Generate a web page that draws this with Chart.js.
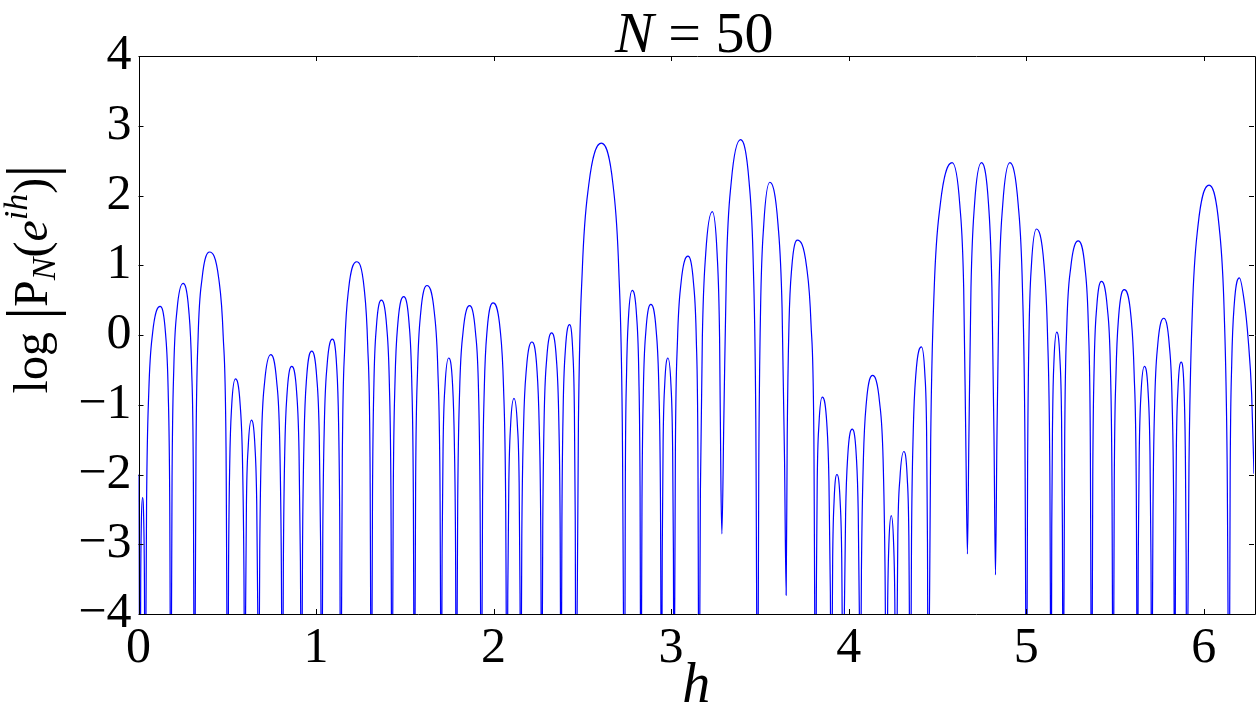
<!DOCTYPE html>
<html>
<head>
<meta charset="utf-8">
<script src="https://cdn.jsdelivr.net/npm/chart.js@4.4.1/dist/chart.umd.min.js"></script>
<style>
  html, body { margin: 0; padding: 0; background: #fff; }
  #wrap { width: 1260px; height: 723px; }
</style>
</head>
<body>
<div id="wrap"><canvas id="c" width="1260" height="723"></canvas></div>
<script>
// ---- Data ----
const titleText = { italic: 'N', rest: ' = 50' };
const xTickValues = [0, 1, 2, 3, 4, 5, 6];
const yTickValues = [-4, -3, -2, -1, 0, 1, 2, 3, 4];

// h positions (radians) of the sampled curve
const hVals = [
  0, 0.009,
  0.0124, 0.0158, 0.0225, 0.0298, 0.0334, 0.037,
  0.0455, 0.0583, 0.0795, 0.122, 0.152, 0.167, 0.176, 0.182,
  0.189, 0.199, 0.217, 0.251, 0.283, 0.299, 0.309, 0.315,
  0.324, 0.336, 0.358, 0.400, 0.452, 0.477, 0.493, 0.503,
  0.507, 0.514, 0.525, 0.546, 0.573, 0.586, 0.594, 0.599,
  0.603, 0.608, 0.618, 0.636, 0.656, 0.666, 0.672, 0.676,
  0.683, 0.693, 0.711, 0.745, 0.778, 0.795, 0.804, 0.811,
  0.816, 0.824, 0.837, 0.863, 0.891, 0.904, 0.912, 0.918,
  0.924, 0.933, 0.947, 0.976, 1.004, 1.018, 1.026, 1.032,
  1.038, 1.047, 1.062, 1.092, 1.116, 1.127, 1.134, 1.139,
  1.148, 1.162, 1.184, 1.229, 1.271, 1.291, 1.304, 1.312,
  1.318, 1.326, 1.340, 1.368, 1.398, 1.413, 1.422, 1.428,
  1.435, 1.445, 1.461, 1.494, 1.524, 1.539, 1.548, 1.554,
  1.561, 1.572, 1.590, 1.625, 1.666, 1.686, 1.698, 1.706,
  1.710, 1.716, 1.727, 1.747, 1.769, 1.779, 1.786, 1.790,
  1.798, 1.809, 1.828, 1.865, 1.898, 1.915, 1.924, 1.931,
  1.938, 1.948, 1.964, 1.997, 2.037, 2.056, 2.068, 2.076,
  2.080, 2.086, 2.096, 2.115, 2.134, 2.144, 2.149, 2.153,
  2.159, 2.169, 2.185, 2.216, 2.244, 2.257, 2.266, 2.271,
  2.277, 2.285, 2.299, 2.327, 2.354, 2.367, 2.375, 2.380,
  2.385, 2.392, 2.404, 2.428, 2.446, 2.455, 2.460, 2.464,
  2.478, 2.500, 2.536, 2.607, 2.673, 2.705, 2.725, 2.738,
  2.742, 2.749, 2.760, 2.781, 2.806, 2.818, 2.825, 2.830,
  2.836, 2.844, 2.858, 2.886, 2.916, 2.931, 2.940, 2.946,
  2.950, 2.955, 2.964, 2.982, 2.999, 3.008, 3.013, 3.016,
  3.024, 3.036, 3.056, 3.095, 3.126, 3.142, 3.151, 3.157,
  3.165, 3.176, 3.195, 3.232, 3.259, 3.273, 3.281, 3.286,
  3.297, 3.312, 3.339, 3.391, 3.439, 3.463, 3.477, 3.487,
  3.494, 3.504, 3.522, 3.556, 3.602, 3.625, 3.639, 3.648,
  3.654, 3.664, 3.680, 3.711, 3.763, 3.788, 3.804, 3.814,
  3.818, 3.823, 3.833, 3.851, 3.877, 3.889, 3.897, 3.902,
  3.910, 3.918, 3.934, 3.952, 3.961, 3.970,
  3.975, 3.983, 3.995, 4.020, 4.043, 4.054, 4.061, 4.065,
  4.072, 4.083, 4.100, 4.135, 4.174, 4.194, 4.205, 4.213,
  4.220, 4.227, 4.240, 4.253, 4.260, 4.266,
  4.277, 4.289, 4.311, 4.330, 4.339, 4.348,
  4.354, 4.364, 4.379, 4.410, 4.429, 4.439, 4.444, 4.448,
  4.462, 4.482, 4.516, 4.583, 4.626, 4.648, 4.660, 4.669,
  4.677, 4.689, 4.709, 4.748, 4.788, 4.807, 4.819, 4.827,
  4.835, 4.847, 4.868, 4.908, 4.955, 4.979, 4.993, 5.002,
  5.008, 5.016, 5.030, 5.058, 5.100, 5.120, 5.133, 5.141,
  5.144, 5.149, 5.157, 5.172, 5.190, 5.199, 5.204, 5.208,
  5.217, 5.229, 5.251, 5.293, 5.331, 5.350, 5.361, 5.369,
  5.375, 5.383, 5.397, 5.424, 5.457, 5.474, 5.483, 5.490,
  5.496, 5.506, 5.521, 5.552, 5.590, 5.608, 5.620, 5.627,
  5.631, 5.637, 5.647, 5.666, 5.687, 5.697, 5.703, 5.707,
  5.714, 5.724, 5.741, 5.775, 5.806, 5.822, 5.831, 5.837,
  5.841, 5.846, 5.855, 5.873, 5.889, 5.896, 5.901, 5.904,
  5.917, 5.936, 5.967, 6.030, 6.087, 6.115, 6.132, 6.143,
  6.149, 6.158, 6.172, 6.201, 6.230, 6.250, 6.270, 6.283
];

// log|P_N(e^{ih})| values at those positions (zeros shown below the axis floor)
const logVals = [
  -2.0, -6,
  -3.53, -2.71, -2.33, -2.71, -3.53, -6,
  -2.39, -0.79, 0.03, 0.41, 0.03, -0.79, -2.39, -6,
  -2.06, -0.46, 0.36, 0.74, 0.36, -0.46, -2.06, -6,
  -1.61, -0.01, 0.81, 1.19, 0.81, -0.01, -1.61, -6,
  -3.43, -1.83, -1.01, -0.63, -1.01, -1.83, -3.43, -6,
  -4.02, -2.42, -1.60, -1.22, -1.60, -2.42, -4.02, -6,
  -3.08, -1.48, -0.66, -0.28, -0.66, -1.48, -3.08, -6,
  -3.25, -1.65, -0.83, -0.45, -0.83, -1.65, -3.25, -6,
  -3.03, -1.43, -0.61, -0.23, -0.61, -1.43, -3.03, -6,
  -2.86, -1.26, -0.44, -0.06, -0.44, -1.26, -2.86, -6,
  -1.75, -0.15, 0.67, 1.05, 0.67, -0.15, -1.75, -6,
  -2.30, -0.70, 0.12, 0.50, 0.12, -0.70, -2.30, -6,
  -2.25, -0.65, 0.17, 0.55, 0.17, -0.65, -2.25, -6,
  -2.09, -0.49, 0.33, 0.71, 0.33, -0.49, -2.09, -6,
  -3.13, -1.53, -0.71, -0.33, -0.71, -1.53, -3.13, -6,
  -2.38, -0.78, 0.04, 0.42, 0.04, -0.78, -2.38, -6,
  -2.34, -0.74, 0.08, 0.46, 0.08, -0.74, -2.34, -6,
  -3.71, -2.11, -1.29, -0.91, -1.29, -2.11, -3.71, -6,
  -2.90, -1.30, -0.48, -0.10, -0.48, -1.30, -2.90, -6,
  -2.77, -1.17, -0.35, 0.03, -0.35, -1.17, -2.77, -6,
  -2.65, -1.05, -0.23, 0.15, -0.23, -1.05, -2.65, -6,
  -1.25, 0.95, 2.15, 2.75, 2.15, 0.95, -1.25, -6,
  -2.16, -0.56, 0.26, 0.64, 0.26, -0.56, -2.16, -6,
  -2.36, -0.76, 0.06, 0.44, 0.06, -0.76, -2.36, -6,
  -3.13, -1.53, -0.71, -0.33, -0.71, -1.53, -3.13, -6,
  -1.67, -0.07, 0.75, 1.13, 0.75, -0.07, -1.67, -6,
  -2.23, -0.03, 1.17, 1.77, 1.17, -0.03, -2.23, -2.85,
  -1.20, 1.00, 2.20, 2.80, 2.20, 1.00, -1.20, -6,
  -1.81, 0.39, 1.59, 2.19, 1.59, 0.39, -1.81, -3.73,
  -1.44, 0.16, 0.98, 1.36, 0.98, 0.16, -1.44, -6,
  -3.69, -2.09, -1.27, -0.89, -1.27, -2.09, -3.69, -6,
  -3.20, -2.38, -2.00, -2.38, -3.20, -6,
  -4.15, -2.55, -1.73, -1.35, -1.73, -2.55, -4.15, -6,
  -3.38, -1.78, -0.96, -0.58, -0.96, -1.78, -3.38, -6,
  -3.79, -2.97, -2.59, -2.97, -3.79, -6,
  -2.87, -2.05, -1.67, -2.05, -2.87, -6,
  -2.97, -1.37, -0.55, -0.17, -0.55, -1.37, -2.97, -6,
  -1.53, 0.67, 1.87, 2.47, 1.87, 0.67, -1.53, -3.14,
  -1.53, 0.67, 1.87, 2.47, 1.87, 0.67, -1.53, -3.44,
  -1.53, 0.67, 1.87, 2.47, 1.87, 0.67, -1.53, -6,
  -1.88, 0.02, 1.02, 1.52, 1.02, 0.02, -1.88, -6,
  -2.76, -1.16, -0.34, 0.04, -0.34, -1.16, -2.76, -6,
  -1.45, 0.15, 0.97, 1.35, 0.97, 0.15, -1.45, -6,
  -2.03, -0.43, 0.39, 0.77, 0.39, -0.43, -2.03, -6,
  -2.15, -0.55, 0.27, 0.65, 0.27, -0.55, -2.15, -6,
  -3.25, -1.65, -0.83, -0.45, -0.83, -1.65, -3.25, -6,
  -2.56, -0.96, -0.14, 0.24, -0.14, -0.96, -2.56, -6,
  -3.19, -1.59, -0.77, -0.39, -0.77, -1.59, -3.19, -6,
  -1.85, 0.35, 1.55, 2.15, 1.55, 0.35, -1.85, -6,
  -1.98, -0.38, 0.44, 0.82, 0.45, -0.05, -0.85, -1.99
];

// ---- Rendering ----
const SERIF = '"Liberation Serif", "DejaVu Serif", serif';
const points = hVals.map((h, i) => ({ x: h, y: logVals[i] }));

function drawRun(c, parts, cx, baseY) {
  let total = 0;
  parts.forEach(p => { c.font = p.f; p.w = c.measureText(p.t).width; total += p.w; });
  let x = cx - total / 2;
  parts.forEach(p => { c.font = p.f; c.fillText(p.t, x, baseY + (p.dy || 0)); x += p.w; });
}

const framePlugin = {
  id: 'frame',
  afterDraw(chart) {
    const c = chart.ctx, a = chart.chartArea;
    const xs = chart.scales.x, ys = chart.scales.y;
    c.save();
    c.strokeStyle = '#000';
    c.lineWidth = 1;
    c.beginPath();
    c.rect(Math.round(a.left) + 0.5, Math.round(a.top) + 0.5,
           Math.round(a.right - a.left), Math.round(a.bottom - a.top));
    c.stroke();
    const TL = 5;
    c.beginPath();
    xTickValues.forEach(v => {
      const px = Math.round(xs.getPixelForValue(v)) + 0.5;
      c.moveTo(px, a.bottom); c.lineTo(px, a.bottom - TL);
      c.moveTo(px, a.top); c.lineTo(px, a.top + TL);
    });
    yTickValues.forEach(v => {
      const py = Math.round(ys.getPixelForValue(v)) + 0.5;
      c.moveTo(a.left, py); c.lineTo(a.left + TL, py);
      c.moveTo(a.right, py); c.lineTo(a.right - TL, py);
    });
    c.stroke();

    // title
    c.fillStyle = '#000';
    c.textBaseline = 'alphabetic';
    drawRun(c, [
      { t: titleText.italic, f: 'italic 58px ' + SERIF },
      { t: titleText.rest, f: '58px ' + SERIF }
    ], (a.left + a.right) / 2 - 2, 52);

    // y label (rotated)
    c.translate(47, 279);
    c.rotate(-Math.PI / 2);
    drawRun(c, [
      { t: 'log ', f: '48px ' + SERIF },
      { t: '|', f: '66px ' + SERIF, dy: 5 },
      { t: 'P', f: '48px ' + SERIF },
      { t: 'N', f: 'italic 34px ' + SERIF, dy: 8 },
      { t: '(', f: '48px ' + SERIF },
      { t: 'e', f: 'italic 48px ' + SERIF },
      { t: 'ih', f: 'italic 34px ' + SERIF, dy: -20 },
      { t: ')', f: '48px ' + SERIF },
      { t: '|', f: '66px ' + SERIF, dy: 5 }
    ], 0, 0);
    c.restore();
  }
};

new Chart(document.getElementById('c'), {
  type: 'line',
  data: {
    datasets: [{
      data: points,
      borderColor: '#0000ff',
      borderWidth: 1.2,
      pointRadius: 0,
      fill: false,
      cubicInterpolationMode: 'monotone'
    }]
  },
  options: {
    responsive: false,
    animation: false,
    events: [],
    layout: { padding: { top: 56, right: 6, left: 0, bottom: 0 } },
    plugins: { legend: { display: false }, tooltip: { enabled: false }, title: { display: false } },
    scales: {
      x: {
        type: 'linear',
        min: 0,
        max: 2 * Math.PI,
        grid: { display: false, drawTicks: false },
        border: { display: false },
        afterBuildTicks: s => { s.ticks = xTickValues.map(v => ({ value: v })); },
        afterFit: s => { s.height = 109; },
        ticks: {
          color: '#000',
          font: { family: SERIF, size: 50 },
          padding: 5,
          maxRotation: 0,
          autoSkip: false,
          callback: v => String(v)
        },
        title: {
          display: true,
          text: 'h',
          color: '#000',
          font: { family: SERIF, size: 56, style: 'italic' },
          padding: { top: 0, bottom: 2 }
        }
      },
      y: {
        type: 'linear',
        min: -4,
        max: 4,
        grid: { display: false, drawTicks: false },
        border: { display: false },
        afterBuildTicks: s => { s.ticks = yTickValues.map(v => ({ value: v })); },
        afterFit: s => { s.width = 138.5; },
        ticks: {
          color: '#000',
          font: { family: SERIF, size: 50 },
          padding: 7,
          autoSkip: false,
          callback: v => (v < 0 ? '\u2212' + Math.abs(v) : String(v))
        }
      }
    }
  },
  plugins: [framePlugin]
});
</script>
</body>
</html>
